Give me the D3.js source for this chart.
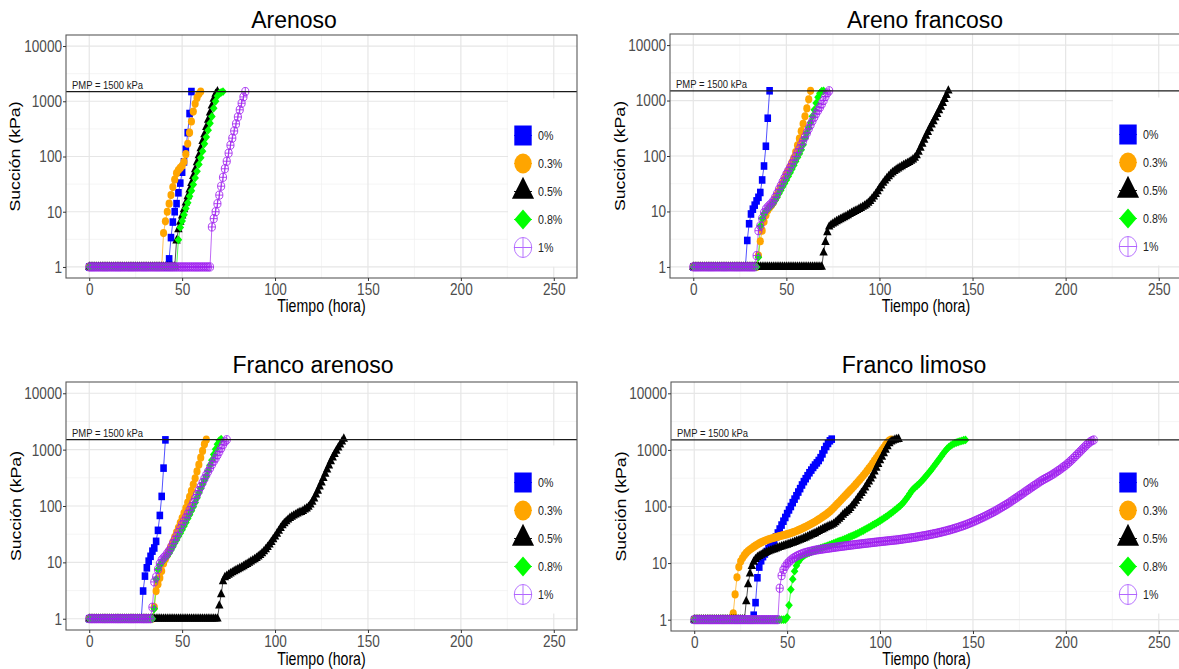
<!DOCTYPE html>
<html>
<head>
<meta charset="utf-8">
<script src="https://cdn.jsdelivr.net/npm/d3@7"></script>
<style>
  html, body { margin: 0; padding: 0; background: #fff; }
  svg { display: block; }
</style>
</head>
<body>
<svg id="chart" width="1179" height="669"></svg>
<script>
// Suction (kPa) logged once per hour from t = 0 h, one array per soil and fibre dose.
const HOURS_PER_READING = 1;

const treatments = ["0%", "0.3%", "0.5%", "0.8%", "1%"];
const xTicks = [0, 50, 100, 150, 200, 250];
const yTicks = [1, 10, 100, 1000, 10000];
const pmp = 1500;
const pmpLabel = "PMP = 1500 kPa";

// ---------- Arenoso ----------
const arenoso0 = [
  1,1,1,1,1,1,1,1,1,1, 1,1,1,1,1,1,1,1,1,1, 1,1,1,1,1,1,1,1,1,1, 1,1,1,1,1,1,1,1,1,1,
  1,1,1,
  1.4,3.4,6.5,10,14,22,33,52,80,135,270,600,1500
];
const arenoso03 = [
  1,1,1,1,1,1,1,1,1,1, 1,1,1,1,1,1,1,1,1,1, 1,1,1,1,1,1,1,1,1,1, 1,1,1,1,1,1,1,1,1,1,
  4.1,6.7,10,14,20,28,38,50,57,62,
  68,80,110,170,270,430,650,900,1150,1350,
  1500
];
const arenoso05 = [
  1,1,1,1,1,1,1,1,1,1, 1,1,1,1,1,1,1,1,1,1, 1,1,1,1,1,1,1,1,1,1, 1,1,1,1,1,1,1,1,1,1,
  1,1,1,1,1,1,1,
  3.0,4.8,6.5,8.5,11,14.5,19,25,33,44,
  58,78,105,140,190,250,340,460,620,830,
  1100,1350,1500
];
const arenoso08 = [
  1,1,1,1,1,1,1,1,1,1, 1,1,1,1,1,1,1,1,1,1, 1,1,1,1,1,1,1,1,1,1, 1,1,1,1,1,1,1,1,1,1,
  1,1,1,1,1,1,1,1,
  3.1,5.2,6.8,8.8,11.5,14.5,19,24,31,41,
  54,72,95,125,170,225,300,400,530,750,
  1000,1250,1400,1450,1500
];
const arenoso1 = [
  1,1,1,1,1,1,1,1,1,1, 1,1,1,1,1,1,1,1,1,1, 1,1,1,1,1,1,1,1,1,1, 1,1,1,1,1,1,1,1,1,1,
  1,1,1,1,1,1,1,1,1,1, 1,1,1,1,1,1,1,1,1,1, 1,1,1,1,1,1,
  5.3,7.5,10,14,20,29,42,60,82,115,
  160,215,290,390,520,700,920,1200,1500
];

// ---------- Areno francoso ----------
const arenoFrancoso0 = [
  1,1,1,1,1,1,1,1,1,1, 1,1,1,1,1,1,1,1,1,1, 1,1,1,1,1,1,1,1,1,
  3,6,9,11,13,15.5,18,22,37,66,150,480,1500
];
const arenoFrancoso03 = [
  1,1,1,1,1,1,1,1,1,1, 1,1,1,1,1,1,1,1,1,1, 1,1,1,1,1,1,1,1,1,1, 1,1,1,1,1,
  1.6,2.9,4.5,6.5,8.5,10.5,11.8,13,14.5,17,
  20,23.5,27.5,32,38,46,54,64,76,92,
  118,155,205,280,380,520,720,1050,1500
];
const arenoFrancoso05 = [
  1,1,1,1,1,1,1,1,1,1, 1,1,1,1,1,1,1,1,1,1, 1,1,1,1,1,1,1,1,1,1, 1,1,1,1,1,1,1,1,1,1,
  1,1,1,1,1,1,1,1,1,1, 1,1,1,1,1,1,1,1,1,1, 1,1,1,1,1,1,1,1,1,1,
  1.8,2.8,4.2,5.3,5.7,6.0,6.3,6.6,6.9,7.2,
  7.5,7.8,8.1,8.5,8.9,9.3,9.7,10.1,10.5,11,
  11.5,12,12.6,13.3,14.2,15.3,16.8,18.5,20.5,23,
  26,29,32.5,36,39.5,43,46.5,50,53,56,
  59,62,65,68,71,74,77,81,86,92,
  102,118,140,165,195,230,270,315,365,420,
  490,570,660,770,900,1060,1250,1500
];
const arenoFrancoso08 = [
  1,1,1,1,1,1,1,1,1,1, 1,1,1,1,1,1,1,1,1,1, 1,1,1,1,1,1,1,1,1,1, 1,1,1,1,1,
  1.5,5.5,7.5,9,10,11,12,13,14,16,
  18,21,24,28,32,37,43,50,58,68,
  80,95,110,130,160,210,260,320,400,520,
  680,900,1150,1350,1480,1500
];
const arenoFrancoso1 = [
  1,1,1,1,1,1,1,1,1,1, 1,1,1,1,1,1,1,1,1,1, 1,1,1,1,1,1,1,1,1,1, 1,1,1,1,
  1.6,4.5,5.5,7.5,9.5,11,12,13,14,15.5,
  18,21,25,29,34,40,47,54,62,72,
  84,98,115,135,160,187,220,260,310,365,
  430,500,580,660,750,860,1000,1180,1370,1500
];

// ---------- Franco arenoso ----------
const francoArenoso0 = [
  1,1,1,1,1,1,1,1,1,1, 1,1,1,1,1,1,1,1,1,1, 1,1,1,1,1,1,1,1,1,
  3.1,5.7,8,10.5,12.8,15.8,18,23.6,37,68,148,470,1490
];
const francoArenoso03 = [
  1,1,1,1,1,1,1,1,1,1, 1,1,1,1,1,1,1,1,1,1, 1,1,1,1,1,1,1,1,1,1, 1,1,1,1,1,
  1.6,3.1,4.1,5.3,7,9.5,11.5,13.5,16,19,
  23,28,34,41,50,61,75,92,115,145,
  185,240,310,410,540,720,950,1250,1500
];
const francoArenoso05 = [
  1,1,1,1,1,1,1,1,1,1, 1,1,1,1,1,1,1,1,1,1, 1,1,1,1,1,1,1,1,1,1, 1,1,1,1,1,1,1,1,1,1,
  1,1,1,1,1,1,1,1,1,1, 1,1,1,1,1,1,1,1,1,1, 1,1,1,1,1,1,1,1,1,1,
  1.7,2.7,4.6,5.4,5.7,6.0,6.3,6.6,6.9,7.2,
  7.5,7.8,8.1,8.5,8.9,9.3,9.8,10.3,10.8,11.3,
  11.9,12.6,13.4,14.4,15.6,17,18.6,20.5,22.8,25.5,
  28.5,32,36,40.5,45,49,53,57,61,64,
  67,70,73,76,78,81,86,90,96,105,
  118,135,158,185,220,260,310,370,440,520,
  620,720,830,950,1080,1220,1380,1550
];
const francoArenoso08 = [
  1,1,1,1,1,1,1,1,1,1, 1,1,1,1,1,1,1,1,1,1, 1,1,1,1,1,1,1,1,1,1, 1,1,1,1,1,
  1.5,5,7.5,9,10,11,12,13,14.5,16.5,
  19,22,25,29,33,38,44,51,60,70,
  82,97,115,140,170,205,245,290,340,420,
  530,650,820,1020,1250,1450,1530
];
const francoArenoso1 = [
  1,1,1,1,1,1,1,1,1,1, 1,1,1,1,1,1,1,1,1,1, 1,1,1,1,1,1,1,1,1,1, 1,1,1,1,
  1.6,4.5,5.5,7.5,9.5,11,12,13,14.5,16,
  18.5,21.5,25,29,34,40,47,54,62,72,
  84,98,115,135,160,187,220,260,305,355,
  410,470,540,620,700,800,920,1060,1220,1380,
  1500
];

// ---------- Franco limoso ----------
const francoLimoso0 = [
  1,1,1,1,1,1,1,1,1,1, 1,1,1,1,1,1,1,1,1,1, 1,1,1,1,1,1,1,1,1,1, 1,1,
  1.2,2.0,5.5,8.5,11,13,14.5,16,18,20,
  22,25,29,34,40,47,55,64,75,87,
  100,117,135,155,180,207,240,275,310,350,
  395,440,490,540,590,650,730,850,1000,1150,
  1300,1450,1550
];
const francoLimoso03 = [
  1,1,1,1,1,1,1,1,1,1, 1,1,1,1,1,1,1,1,1,1, 1,
  1.3,2.8,5.6,8.5,10.7,12.3,13.8,15.1,16.3,17.3,
  18.3,19.3,20.3,21.3,22.3,23.2,24,24.8,25.5,26.2,
  26.9,27.5,28.1,28.7,29.3,29.9,30.5,31.1,31.7,32.4,
  33.1,33.9,34.8,35.8,36.9,38.1,39.4,40.8,42.3,43.9,
  45.6,47.4,49.4,51.5,53.8,56.3,59,62,65.3,68.8,
  72.5,77,82,88,95,103,111,120,130,141,
  153,165,179,194,210,228,248,270,295,322,
  352,385,425,470,520,580,645,720,800,890,
  990,1100,1230,1360,1460,1520
];
const francoLimoso05 = [
  1,1,1,1,1,1,1,1,1,1, 1,1,1,1,1,1,1,1,1,1, 1,1,1,1,1,1,1,1,
  2.1,4.2,6.5,8.8,10.5,11.7,12.6,13.3,13.9,14.5,
  15,15.5,16,16.5,17,17.5,18,18.5,19,19.5,
  20,20.5,21,21.6,22.2,22.8,23.4,24.1,24.8,25.6,
  26.4,27.3,28.2,29.2,30.2,31.3,32.4,33.5,35,36.5,
  38,39.5,41,42.5,44,45.5,47,49,52,56,
  60,65,71,76,81,86,93,103,113,125,
  140,155,172,190,215,245,275,310,350,410,
  480,560,650,750,870,1000,1150,1300,1400,1450,
  1500,1530,1550
];
const francoLimoso08 = [
  1,1,1,1,1,1,1,1,1,1, 1,1,1,1,1,1,1,1,1,1, 1,1,1,1,1,1,1,1,1,1, 1,1,1,1,1,1,1,1,1,1,
  1,1,1,1,1,1,1,1,1,1,
  1.1,1.8,3.4,5.2,7.2,9,10.5,11.7,12.7,13.5,
  14.2,14.8,15.3,15.8,16.3,16.8,17.3,17.8,18.3,18.8,
  19.3,19.8,20.4,21,21.6,22.2,22.9,23.6,24.3,25,
  25.8,26.6,27.4,28.3,29.2,30.2,31.2,32.3,33.5,34.8,
  36.2,37.7,39.3,41,42.8,44.7,46.7,48.8,51,53.4,
  56,58.8,61.8,65,68.5,72.3,76.5,81,86,91.5,
  97.5,104,112,122,135,150,168,188,205,220,
  235,252,272,295,322,352,385,422,465,515,
  570,630,700,775,860,950,1040,1120,1190,1250,
  1300,1340,1380,1420,1450,1480,1500
];
const francoLimoso1 = [
  1,1,1,1,1,1,1,1,1,1, 1,1,1,1,1,1,1,1,1,1, 1,1,1,1,1,1,1,1,1,1, 1,1,1,1,1,1,1,1,1,1,
  1,1,1,1,1,1,
  3.6,6,7.6,8.7,9.7,10.5,11.3,12,12.6,13.2,
  13.7,14.2,14.6,15,15.4,15.7,16,16.3,16.6,16.9,
  17.1,17.3,17.5,17.7,17.9,18.1,18.3,18.5,18.7,18.9,
  19.1,19.3,19.5,19.7,19.9,20.1,20.3,20.5,20.7,20.9,
  21.1,21.3,21.5,21.7,21.9,22.1,22.3,22.5,22.7,22.9,
  23.1,23.3,23.5,23.7,23.9,24.1,24.3,24.5,24.7,24.9,
  25.1,25.3,25.5,25.7,25.9,26.2,26.5,26.8,27.1,27.4,
  27.7,28,28.3,28.6,29,29.4,29.8,30.2,30.6,31,
  31.5,32,32.5,33,33.5,34.1,34.7,35.3,36,36.7,
  37.4,38.2,39,39.9,40.8,41.8,42.8,43.9,45,46.2,
  47.5,48.9,50.4,52,53.7,55.5,57.4,59.4,61.5,63.7,
  66,68.5,71.2,74,77,80,83.5,87,91,95,
  99.5,104,109,114,120,126,133,140,147,155,
  163,172,181,191,201,212,223,235,247,260,
  273,287,300,313,326,340,355,372,390,410,
  432,456,482,510,540,575,615,660,710,765,
  825,890,960,1040,1120,1210,1300,1380,1450,1500
];

// ---------- drawing ----------
const FONT = "'Liberation Sans', Arial, Helvetica, sans-serif";
const SQUEEZE = 0.8;      // horizontal squeeze of axis / legend lettering
const MARK_SQUEEZE = 0.87; // horizontal squeeze of plotting symbols

const seriesColors = ["#0000FF", "#FFA500", "#000000", "#00FF00", "#A020F0"];
const seriesShapes = ["square", "circle", "triangle", "diamond", "circleplus"];

const panels = [
  { title: "Arenoso", series: [arenoso0, arenoso03, arenoso05, arenoso08, arenoso1],
    left: 66, right: 577, top: 35, bottom: 278, titleX: 294, titleY: 28, xTitleY: 312, yTitleX: 20 },
  { title: "Areno francoso", series: [arenoFrancoso0, arenoFrancoso03, arenoFrancoso05, arenoFrancoso08, arenoFrancoso1],
    left: 670, right: 1182, top: 34, bottom: 278, titleX: 925, titleY: 28, xTitleY: 312, yTitleX: 625 },
  { title: "Franco arenoso", series: [francoArenoso0, francoArenoso03, francoArenoso05, francoArenoso08, francoArenoso1],
    left: 66, right: 577, top: 382, bottom: 630, titleX: 313, titleY: 373, xTitleY: 665, yTitleX: 21 },
  { title: "Franco limoso", series: [francoLimoso0, francoLimoso03, francoLimoso05, francoLimoso08, francoLimoso1],
    left: 671, right: 1182, top: 382, bottom: 631, titleX: 914, titleY: 373, xTitleY: 665, yTitleX: 626 }
];

function shapePath(kind, s) {
  const h = s / 2;
  switch (kind) {
    case "square":
      return `M${-h},${-h}H${h}V${h}H${-h}Z`;
    case "circle":
      return `M${h},0A${h},${h} 0 1,1 ${-h},0A${h},${h} 0 1,1 ${h},0Z`;
    case "triangle": {
      const side = s * 2 / Math.sqrt(3);
      return `M0,${-2 * s / 3}L${side / 2},${s / 3}L${-side / 2},${s / 3}Z`;
    }
    case "diamond":
      return `M0,${-h}L${h},0L0,${h}L${-h},0Z`;
    case "circleplus":
      return `M${h},0A${h},${h} 0 1,1 ${-h},0A${h},${h} 0 1,1 ${h},0Z M${-h},0H${h} M0,${-h}V${h}`;
  }
}

function styleMark(sel, i) {
  if (seriesShapes[i] === "circleplus") {
    sel.attr("fill", "none").attr("stroke", seriesColors[i]).attr("stroke-width", 0.9);
  } else {
    sel.attr("fill", seriesColors[i]).attr("stroke", "none");
  }
}

const svg = d3.select("#chart");
svg.append("rect").attr("width", 1179).attr("height", 669).attr("fill", "#fff");

const markSize = [7.6, 8.2, 8.4, 8.8, 8.2];
const keySize = [20, 20, 22, 20, 20];

panels.forEach(p => {
  const g = svg.append("g");
  const x = d3.scaleLinear().domain([-12.5, 262.5]).range([p.left, p.right]);
  const y = d3.scaleLog().domain([Math.pow(10, -0.2), Math.pow(10, 4.2)]).range([p.bottom, p.top]);

  // panel background and grid
  g.append("rect").attr("x", p.left).attr("y", p.top)
    .attr("width", p.right - p.left).attr("height", p.bottom - p.top).attr("fill", "#fff");

  const xMinor = [25, 75, 125, 175, 225];
  const yMinor = [0.5, 1.5, 2.5, 3.5].map(e => Math.pow(10, e));
  g.append("g").selectAll("line").data(xMinor).join("line")
    .attr("x1", d => x(d)).attr("x2", d => x(d)).attr("y1", p.top).attr("y2", p.bottom)
    .attr("stroke", "#F1F1F1").attr("stroke-width", 0.7);
  g.append("g").selectAll("line").data(yMinor).join("line")
    .attr("y1", d => y(d)).attr("y2", d => y(d)).attr("x1", p.left).attr("x2", p.right)
    .attr("stroke", "#F1F1F1").attr("stroke-width", 0.7);
  g.append("g").selectAll("line").data(xTicks).join("line")
    .attr("x1", d => x(d)).attr("x2", d => x(d)).attr("y1", p.top).attr("y2", p.bottom)
    .attr("stroke", "#E6E6E6").attr("stroke-width", 1.2);
  g.append("g").selectAll("line").data(yTicks).join("line")
    .attr("y1", d => y(d)).attr("y2", d => y(d)).attr("x1", p.left).attr("x2", p.right)
    .attr("stroke", "#E6E6E6").attr("stroke-width", 1.2);

  // legend backing box (drawn under the data, over the grid)
  const keyX = p.right - 54;
  const rowY = i => p.top + 100.5 + i * 28;
  g.append("rect")
    .attr("x", keyX - 15).attr("y", rowY(0) - 37)
    .attr("width", p.right - (keyX - 15)).attr("height", rowY(4) + 19 - (rowY(0) - 37))
    .attr("fill", "#fff");

  // series: connecting lines first, then symbols
  const tOf = (d, k) => k * HOURS_PER_READING;
  const line = d3.line().x((d, k) => x(tOf(d, k))).y(d => y(d));
  p.series.forEach((vals, i) => {
    g.append("path").datum(vals).attr("d", line)
      .attr("fill", "none").attr("stroke", seriesColors[i])
      .attr("stroke-width", 0.8).attr("stroke-opacity", 0.85);
  });
  p.series.forEach((vals, i) => {
    const marks = g.append("g").selectAll("path").data(vals).join("path")
      .attr("d", shapePath(seriesShapes[i], markSize[i]))
      .attr("transform", (d, k) => `translate(${x(tOf(d, k))},${y(d)}) scale(${MARK_SQUEEZE},1)`);
    styleMark(marks, i);
  });

  // wilting point reference
  g.append("line").attr("x1", p.left).attr("x2", p.right)
    .attr("y1", y(pmp)).attr("y2", y(pmp))
    .attr("stroke", "#1a1a1a").attr("stroke-width", 1.3);
  g.append("text")
    .attr("transform", `translate(${p.left + 6},${y(pmp) - 2.5}) scale(0.86,1)`)
    .attr("font-family", FONT).attr("font-size", 11).attr("fill", "#1a1a1a")
    .text(pmpLabel);

  // panel border
  g.append("rect").attr("x", p.left).attr("y", p.top)
    .attr("width", p.right - p.left).attr("height", p.bottom - p.top)
    .attr("fill", "none").attr("stroke", "#595959").attr("stroke-width", 1.1);

  // legend keys
  treatments.forEach((lab, i) => {
    const kg = g.append("g").attr("transform", `translate(${keyX},${rowY(i)})`);
    kg.append("line").attr("x1", -9).attr("x2", 9)
      .attr("stroke", seriesColors[i]).attr("stroke-width", 0.9);
    const m = kg.append("path").attr("d", shapePath(seriesShapes[i], keySize[i]))
      .attr("transform", `scale(${MARK_SQUEEZE},1)`);
    styleMark(m, i);
    if (seriesShapes[i] === "circleplus") m.attr("stroke-width", 1).attr("stroke", "#B36BFF");
    g.append("text")
      .attr("transform", `translate(${keyX + 15},${rowY(i)}) scale(0.82,1)`)
      .attr("dy", "0.36em")
      .attr("font-family", FONT).attr("font-size", 13).attr("fill", "#222")
      .text(lab);
  });

  // axes
  const gx = g.append("g").attr("transform", `translate(0,${p.bottom})`)
    .call(d3.axisBottom(x).tickValues(xTicks).tickSize(3).tickPadding(2));
  gx.select(".domain").remove();
  gx.selectAll("line").attr("stroke", "#333");
  gx.selectAll("text").attr("fill", "#4d4d4d")
    .attr("font-family", FONT).attr("font-size", 17)
    .attr("transform", `scale(${SQUEEZE},1)`);

  const gy = g.append("g").attr("transform", `translate(${p.left},0)`)
    .call(d3.axisLeft(y).tickValues(yTicks).tickFormat(d3.format("d")).tickSize(3).tickPadding(1));
  gy.select(".domain").remove();
  gy.selectAll("line").attr("stroke", "#333");
  gy.selectAll("text").attr("fill", "#4d4d4d")
    .attr("font-family", FONT).attr("font-size", 17)
    .attr("x", -4 / SQUEEZE)
    .attr("transform", `scale(${SQUEEZE},1)`);

  // titles
  g.append("text").attr("x", p.titleX).attr("y", p.titleY)
    .attr("text-anchor", "middle").attr("font-family", FONT)
    .attr("font-size", 23).attr("fill", "#000").text(p.title);

  g.append("text")
    .attr("transform", `translate(${(p.left + p.right) / 2},${p.xTitleY}) scale(${SQUEEZE},1)`)
    .attr("text-anchor", "middle").attr("font-family", FONT)
    .attr("font-size", 17.7).attr("fill", "#000").text("Tiempo (hora)");

  g.append("text")
    .attr("transform", `translate(${p.yTitleX},${(p.top + p.bottom) / 2}) scale(${SQUEEZE},1) rotate(-90)`)
    .attr("text-anchor", "middle").attr("font-family", FONT)
    .attr("font-size", 17.7).attr("fill", "#000").text("Succión (kPa)");
});
</script>
</body>
</html>
